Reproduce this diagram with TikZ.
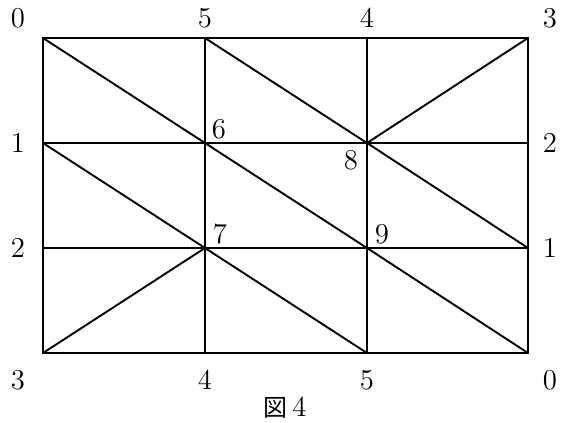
\documentclass[tikz,border=0pt]{standalone}
\usepackage{fontspec}
\newfontfamily\jpfont{Noto Sans CJK JP}
\usetikzlibrary{positioning}

\begin{document}
\begin{tikzpicture}[
  x=0.5pt,y=-0.5pt,
  edge/.style={draw,line width=0.95pt},
  num/.style={inner sep=1pt,font=\Large}
]
  \useasboundingbox (0,0) rectangle (564,423);
  % grid points
  \coordinate (a0) at (43,38);  \coordinate (a1) at (205,38);
  \coordinate (a2) at (367,38); \coordinate (a3) at (528,38);
  \coordinate (b0) at (43,143); \coordinate (b1) at (205,143);
  \coordinate (b2) at (367,143);\coordinate (b3) at (528,143);
  \coordinate (c0) at (43,248); \coordinate (c1) at (205,248);
  \coordinate (c2) at (367,248);\coordinate (c3) at (528,248);
  \coordinate (d0) at (43,353); \coordinate (d1) at (205,353);
  \coordinate (d2) at (367,353);\coordinate (d3) at (528,353);

  % outline and grid
  \draw[edge] (a0) rectangle (d3);
  \draw[edge] (a1) -- (d1);
  \draw[edge] (a2) -- (d2);
  \draw[edge] (b0) -- (b3);
  \draw[edge] (c0) -- (c3);

  % diagonals
  \draw[edge] (a0) -- (b1);
  \draw[edge] (a1) -- (b2) -- (c3);
  \draw[edge] (a3) -- (b2);
  \draw[edge] (b0) -- (c1) -- (d2);
  \draw[edge] (b1) -- (c2) -- (d3);
  \draw[edge] (d0) -- (c1);

  % labels
  \node[num] (t0) at (18,18) {0};
  \node[num] (t5) at (205,18) {5};
  \node[num] (t4) at (367,18) {4};
  \node[num] (t3) at (550,18) {3};
  \node[num] (l1) at (18,143) {1};
  \node[num] (r2) at (550,143) {2};
  \node[num] (l2) at (18,248) {2};
  \node[num] (r1) at (550,248) {1};
  \node[num] (u3) at (18,380) {3};
  \node[num] (u4) at (205,380) {4};
  \node[num] (u5) at (367,380) {5};
  \node[num] (u0) at (550,380) {0};
  \node[num] (p6) at (219,129) {6};
  \node[num] (p8) at (351,160) {8};
  \node[num] (p7) at (220,234) {7};
  \node[num] (p9) at (382,234) {9};

  \node[num] (cap) at (285,408) {{\jpfont\large 図}\,4};
\end{tikzpicture}
\end{document}
